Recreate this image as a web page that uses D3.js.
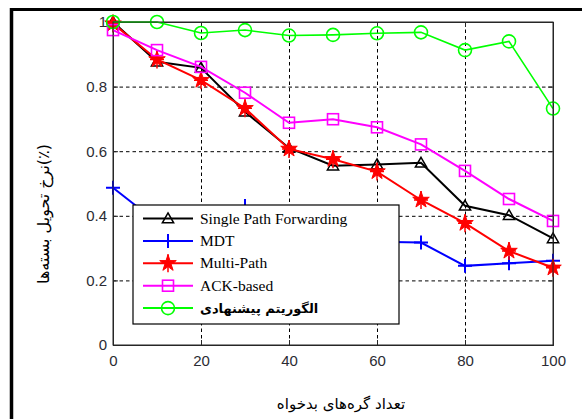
<!DOCTYPE html>
<html>
<head>
<meta charset="utf-8">
<script src="https://cdn.jsdelivr.net/npm/d3@7"></script>
<style>
  body { margin: 0; background: #fff; }
  .tick text { font-family: "Liberation Sans", Arial, sans-serif; font-size: 15px; fill: #2b2b33; }
  .grid line { stroke: #000; stroke-dasharray: 3.5,3; stroke-width: 1; }
  .grid path { display: none; }
</style>
</head>
<body>
<svg id="chart" width="582" height="419"></svg>
<script>
/* Datos */
var nodos = [0, 10, 20, 30, 40, 50, 60, 70, 80, 90, 100]
var singlePath = [1.0, 0.877, 0.858, 0.722, 0.61, 0.555, 0.559, 0.564, 0.431, 0.402, 0.33]
var mdt = [0.487, 0.38, 0.40, 0.43, 0.41, 0.33, 0.32, 0.317, 0.245, 0.253, 0.261]
var multiPath = [0.995, 0.884, 0.82, 0.733, 0.607, 0.575, 0.537, 0.449, 0.377, 0.291, 0.239]
var ackBased = [0.975, 0.913, 0.861, 0.781, 0.688, 0.699, 0.674, 0.621, 0.539, 0.452, 0.384]
var propuesto = [1.0, 1.0, 0.966, 0.975, 0.958, 0.96, 0.965, 0.968, 0.913, 0.94, 0.732]

var ticksX = [0, 20, 40, 60, 80, 100]
var ticksY = [0, 0.2, 0.4, 0.6, 0.8, 1]

var series = [
    { nombre: 'Single Path Forwarding', valores: singlePath, color: '#000000', marca: 'triangulo' },
    { nombre: 'MDT', valores: mdt, color: '#0000ff', marca: 'cruz' },
    { nombre: 'Multi-Path', valores: multiPath, color: '#ff0000', marca: 'estrella' },
    { nombre: 'ACK-based', valores: ackBased, color: '#ff00ff', marca: 'cuadrado' },
    { nombre: 'الگوریتم پیشنهادی', valores: propuesto, color: '#00ff00', marca: 'circulo' }
]

var svg = d3.select('#chart')

/*Marco exterior*/
svg.append('line').attr('x1', 11.5).attr('x2', 11.5).attr('y1', 8).attr('y2', 419)
    .attr('stroke', '#000').attr('stroke-width', 3.5)
svg.append('line').attr('x1', 10).attr('x2', 582).attr('y1', 9.5).attr('y2', 9.5)
    .attr('stroke', '#000').attr('stroke-width', 3)

var x = d3.scaleLinear().domain([0, 100]).range([113, 553])
var y = d3.scaleLinear().domain([0, 1]).range([345, 22])

/*Rejilla*/
svg.append('g').attr('class', 'grid').attr('transform', 'translate(0,345)')
    .call(d3.axisBottom(x).tickValues([20, 40, 60, 80]).tickSize(-323).tickFormat(''))
svg.append('g').attr('class', 'grid').attr('transform', 'translate(113,0)')
    .call(d3.axisLeft(y).tickValues([0.2, 0.4, 0.6, 0.8]).tickSize(-440).tickFormat(''))

/*Ejes*/
var ejeX = svg.append('g').attr('transform', 'translate(0,345)')
    .call(d3.axisBottom(x).tickValues(ticksX).tickSize(-5).tickPadding(10).tickFormat(d3.format('d')))
var ejeY = svg.append('g').attr('transform', 'translate(113,0)')
    .call(d3.axisLeft(y).tickValues(ticksY).tickSize(-5).tickPadding(6).tickFormat(d => d === 0 || d === 1 ? d : d3.format('.1f')(d)))
svg.append('g').attr('transform', 'translate(0,22)')
    .call(d3.axisTop(x).tickValues(ticksX).tickSize(-5).tickFormat(''))
svg.append('g').attr('transform', 'translate(553,0)')
    .call(d3.axisRight(y).tickValues(ticksY).tickSize(-5).tickFormat(''))
svg.selectAll('.domain').attr('stroke', '#262626')
svg.selectAll('.tick line').filter(function () { return !this.parentNode.parentNode.classList.contains('grid') }).attr('stroke', '#262626')

/**
 * Dibuja un marcador en la posicion dada
 */
function marcador(g, tipo, color, cx, cy) {
    if (tipo === 'triangulo') {
        g.append('path').attr('d', d3.symbol(d3.symbolTriangle, 55)()).attr('transform', `translate(${cx},${cy + 1})`)
            .attr('fill', 'none').attr('stroke', color).attr('stroke-width', 1.5)
    } else if (tipo === 'cruz') {
        g.append('path').attr('d', `M${cx - 7},${cy}H${cx + 7}M${cx},${cy - 7}V${cy + 7}`)
            .attr('stroke', color).attr('stroke-width', 2)
    } else if (tipo === 'estrella') {
        g.append('path').attr('d', d3.symbol(d3.symbolStar, 85)()).attr('transform', `translate(${cx},${cy})`)
            .attr('fill', color).attr('stroke', color).attr('stroke-width', 1)
        g.append('path').attr('d', `M${cx},${cy - 9}V${cy + 9}M${cx - 7},${cy}H${cx + 7}`)
            .attr('stroke', color).attr('stroke-width', 1.5)
    } else if (tipo === 'cuadrado') {
        g.append('rect').attr('x', cx - 5.5).attr('y', cy - 5.5).attr('width', 11).attr('height', 11)
            .attr('fill', 'none').attr('stroke', color).attr('stroke-width', 1.6)
    } else {
        g.append('circle').attr('cx', cx).attr('cy', cy).attr('r', 6.5)
            .attr('fill', 'none').attr('stroke', color).attr('stroke-width', 1.6)
    }
}

/*Series*/
var linea = d3.line().x((d, i) => x(nodos[i])).y(d => y(d))
series.forEach(s => {
    let g = svg.append('g')
    g.append('path').attr('d', linea(s.valores)).attr('fill', 'none')
        .attr('stroke', s.color).attr('stroke-width', s.marca === 'circulo' ? 1.6 : 2)
    s.valores.forEach((v, i) => marcador(g, s.marca, s.color, x(nodos[i]), y(v)))
})

/*Caja de los ejes*/
svg.append('rect').attr('x', 113).attr('y', 22).attr('width', 440).attr('height', 323)
    .attr('fill', 'none').attr('stroke', '#262626').attr('stroke-width', 1)

/*Leyenda*/
var leyenda = svg.append('g')
leyenda.append('rect').attr('x', 133).attr('y', 205).attr('width', 266).attr('height', 119)
    .attr('fill', '#fff').attr('stroke', '#000').attr('stroke-width', 1.2)
series.forEach((s, i) => {
    let ly = 218.5 + i * 22.4
    leyenda.append('line').attr('x1', 143).attr('x2', 193).attr('y1', ly).attr('y2', ly)
        .attr('stroke', s.color).attr('stroke-width', 2)
    marcador(leyenda, s.marca, s.color, 168, ly)
    let t = leyenda.append('text').attr('x', 200).attr('y', ly + 5).text(s.nombre)
    if (s.marca === 'circulo') {
        t.attr('font-family', '"DejaVu Sans", sans-serif').attr('font-weight', 'bold').attr('font-size', 13)
            .attr('direction', 'ltr').attr('unicode-bidi', 'plaintext')
    } else {
        t.attr('font-family', '"Liberation Serif", "Times New Roman", serif').attr('font-size', 15.5)
    }
})

/*Titulos de los ejes*/
svg.append('text').attr('x', 341).attr('y', 409).attr('text-anchor', 'middle')
    .attr('font-family', '"DejaVu Sans", sans-serif').attr('font-size', 15)
    .text('تعداد گره‌های بدخواه')
svg.append('text').attr('transform', 'translate(49,214) rotate(-90)').attr('text-anchor', 'middle')
    .attr('font-family', '"DejaVu Sans", sans-serif').attr('font-size', 16)
    .text('نرخ تحویل بسته‌ها(٪)')
</script>
</body>
</html>
